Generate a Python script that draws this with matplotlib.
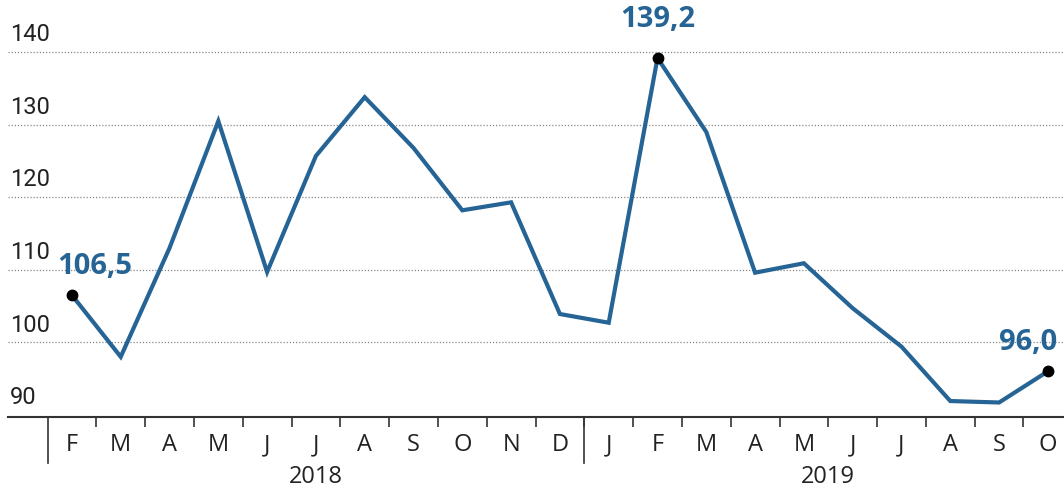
import matplotlib.pyplot as plt
from matplotlib.transforms import blended_transform_factory

months = ["F", "M", "A", "M", "J", "J", "A", "S", "O", "N", "D",
          "J", "F", "M", "A", "M", "J", "J", "A", "S", "O"]
values = [106.5, 98.0, 113.0, 130.5, 109.7, 125.7, 133.8, 126.8, 118.2, 119.3, 103.9,
          102.7, 139.2, 129.0, 109.6, 110.9, 104.7, 99.4, 91.9, 91.7, 96.0]
years = ["2018", "2019"]
year_starts = [0, 11]
yticks = [90, 100, 110, 120, 130, 140]
highlight = [0, 12, 20]
labels = ["106,5", "139,2", "96,0"]

blue = "#256494"

fig = plt.figure(figsize=(10.64, 4.91), dpi=100)
ax = fig.add_axes([8 / 1064, 1 - 417 / 491, 1 - 8 / 1064, 417 / 491])

x = list(range(len(values)))
ax.plot(x, values, color=blue, lw=3, solid_joinstyle="miter", zorder=3)
ax.plot([x[i] for i in highlight], [values[i] for i in highlight], "o",
        color="black", ms=7.5, zorder=4)

ax.set_xlim(-1.31, 20.33)
ax.set_ylim(89.7, 147.2)

for v in yticks:
    if v > 90:
        ax.axhline(v, color="#888888", lw=0.9, ls=(0, (1, 1.5)), zorder=1)
trans = blended_transform_factory(ax.transAxes, ax.transData)
for v in yticks:
    ax.text(0.002, v + 0.8, str(v), transform=trans, ha="left", va="bottom",
            fontsize=17, family=["Roboto", "DejaVu Sans"], color="#222222")

# annotations
offsets = [(-0.3, 4.0, "left"), (0, 5.3, "center"), (0.2, 4.0, "right")]
for i, lab, (dx, dy, ha) in zip(highlight, labels, offsets):
    ax.text(x[i] + dx, values[i] + dy, lab, ha=ha, va="center", fontsize=21,
            fontweight="bold", color=blue, family=["Open Sans", "DejaVu Sans"])

for s in ["top", "right", "left"]:
    ax.spines[s].set_visible(False)
ax.spines["bottom"].set_color("#333333")
ax.spines["bottom"].set_linewidth(1.5)
ax.set_yticks([])

# small ticks between months
ax.set_xticks([k + 0.5 for k in range(len(values) - 1)])
ax.set_xticklabels([])
ax.tick_params(axis="x", length=7, width=1.2, color="#333333", direction="out")

# long separators at year boundaries
xt = blended_transform_factory(ax.transData, ax.transAxes)
for k in [-0.5, 10.5]:
    ax.plot([k, k], [0, -0.11], transform=xt, color="#333333", lw=1.2, clip_on=False)

for i, m in enumerate(months):
    ax.text(i, -0.067, m, transform=xt, ha="center", va="center", fontsize=17,
            family=["Open Sans", "DejaVu Sans"], color="#222222")
year_ends = year_starts[1:] + [len(values)]
for yr, s, e in zip(years, year_starts, year_ends):
    ax.text((s + e - 1) / 2, -0.145, yr, transform=xt, ha="center", va="center",
            fontsize=17, family=["Open Sans", "DejaVu Sans"], color="#222222")

fig.savefig("out.png", dpi=100)
